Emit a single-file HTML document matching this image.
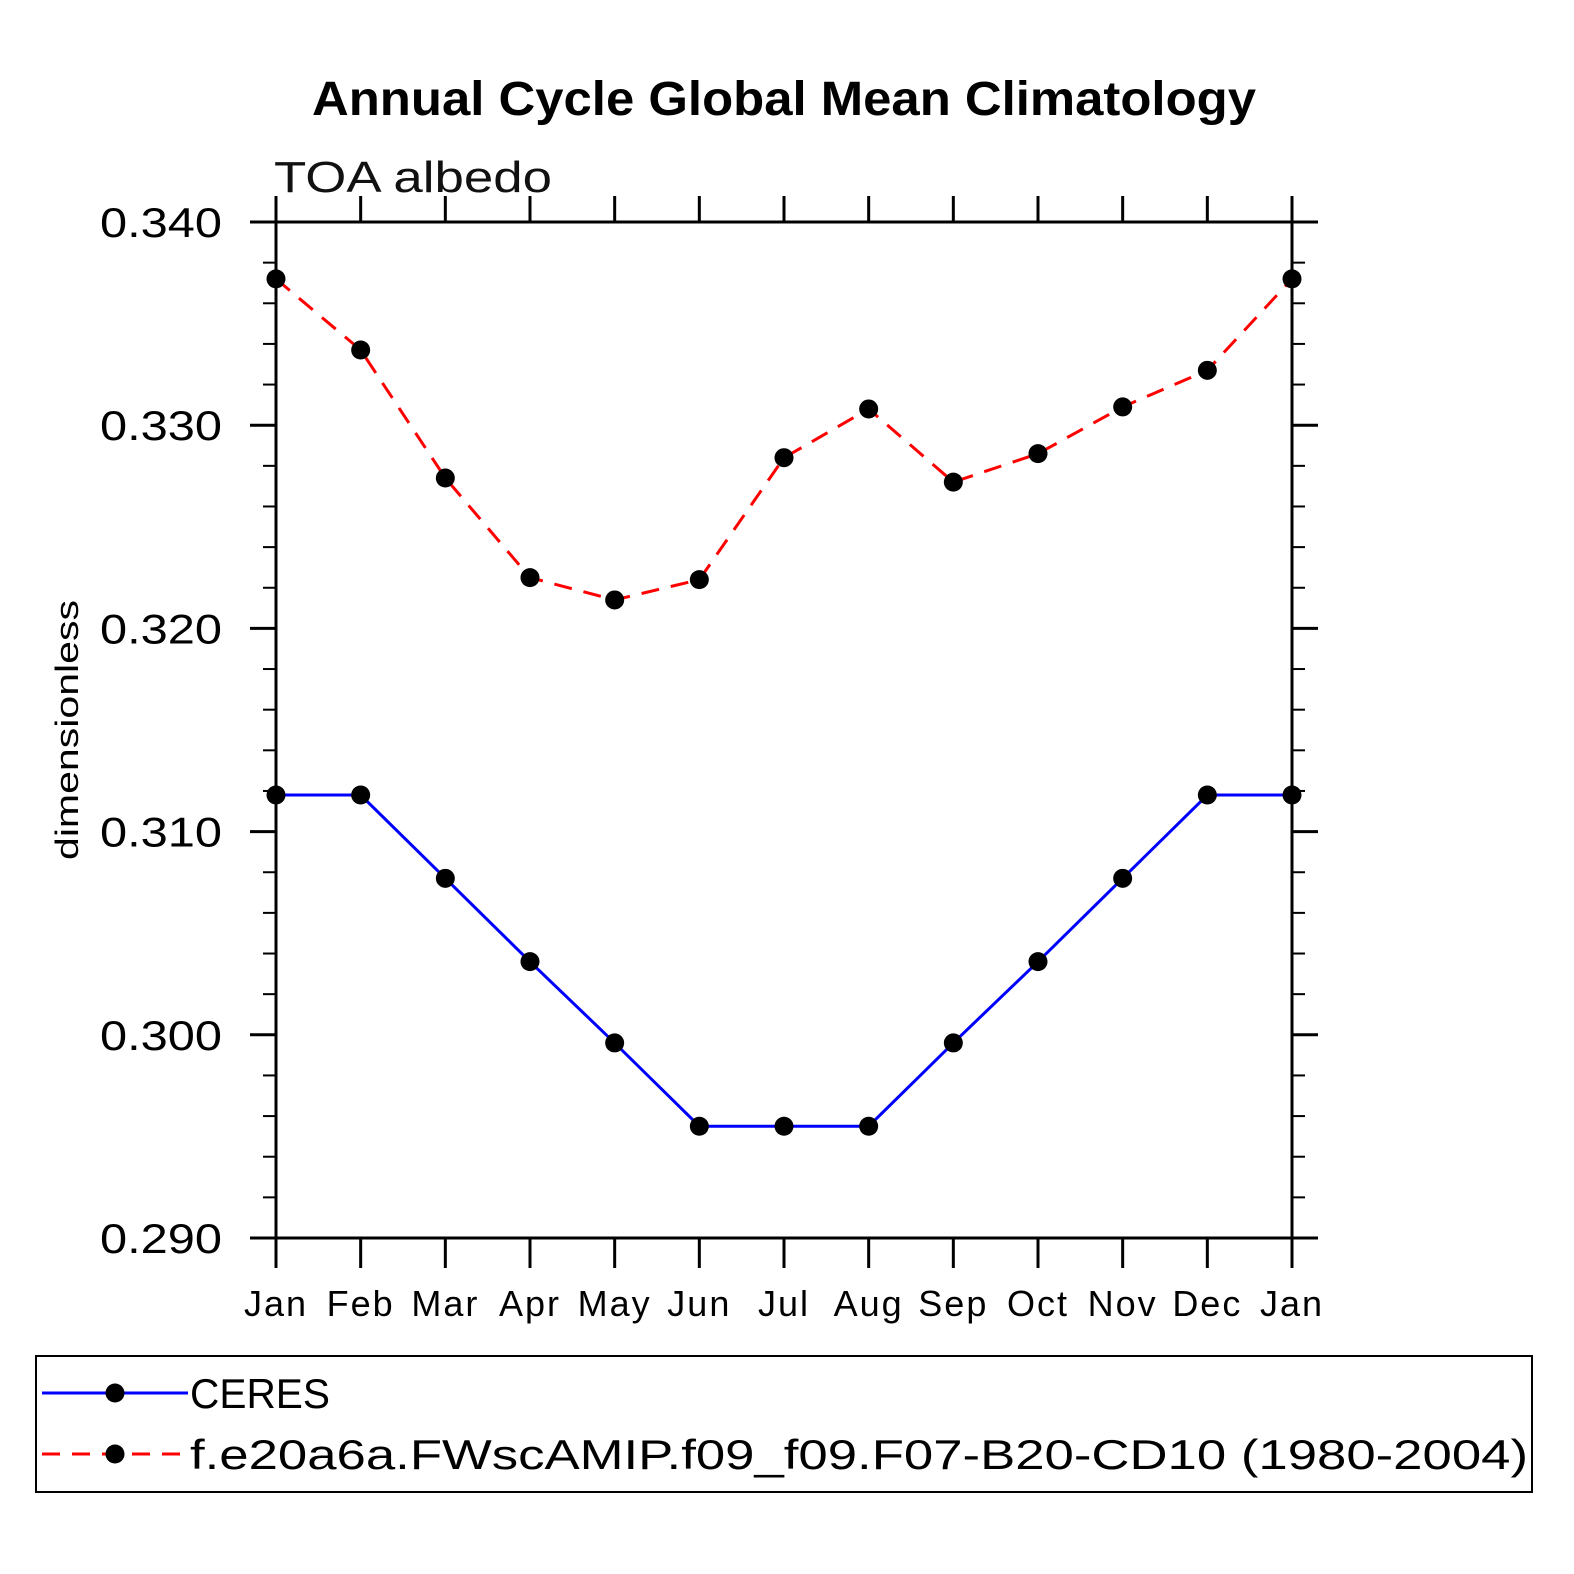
<!DOCTYPE html>
<html><head><meta charset="utf-8"><style>
html,body{margin:0;padding:0;background:#fff;overflow:hidden;width:1574px;height:1574px}
svg{display:block}
svg text{font-family:"Liberation Sans","DejaVu Sans",sans-serif}
</style></head><body>
<svg id="c" width="1574" height="1574" viewBox="0 0 1574 1574" xmlns="http://www.w3.org/2000/svg">
<text x="312" y="115" font-size="48" font-weight="bold" textLength="944" lengthAdjust="spacingAndGlyphs">Annual Cycle Global Mean Climatology</text>
<text x="274" y="192" font-size="44" fill="#111" textLength="278" lengthAdjust="spacingAndGlyphs">TOA albedo</text>
<text transform="translate(78,860) rotate(-90)" font-size="32" textLength="260" lengthAdjust="spacingAndGlyphs">dimensionless</text>
<g id="axes"></g>
<g id="series"></g>
<rect x="36" y="1356" width="1496" height="136" fill="none" stroke="#000" stroke-width="2"/>
<g>
<line x1="42" y1="1393" x2="188" y2="1393" stroke="#00f" stroke-width="3"/>
<circle cx="115" cy="1393" r="9.5" fill="#000"/>
<text x="190" y="1408" font-size="42" fill="#000" textLength="140" lengthAdjust="spacingAndGlyphs">CERES</text>
</g>
<g>
<line x1="42" y1="1454" x2="188" y2="1454" stroke="#f00" stroke-width="3" stroke-dasharray="18,12"/>
<circle cx="115" cy="1454" r="9.5" fill="#000"/>
<text x="190" y="1469" font-size="42" fill="#000" textLength="1338" lengthAdjust="spacingAndGlyphs">f.e20a6a.FWscAMIP.f09_f09.F07-B20-CD10 (1980-2004)</text>
</g>
</svg>
<script>
const months = ["Jan","Feb","Mar","Apr","May","Jun","Jul","Aug","Sep","Oct","Nov","Dec","Jan"];
const ceres = [0.3118,0.3118,0.3077,0.3036,0.2996,0.2955,0.2955,0.2955,0.2996,0.3036,0.3077,0.3118,0.3118];
const model = [0.3372,0.3337,0.3274,0.3225,0.3214,0.3224,0.3284,0.3308,0.3272,0.3286,0.3309,0.3327,0.3372];
const yTicks = [0.290,0.300,0.310,0.320,0.330,0.340];
const yTickLabels = ["0.290","0.300","0.310","0.320","0.330","0.340"];
const X0=276,X1=1292,Y0=1238,Y1=222,YMIN=0.29,YMAX=0.34;
const NS="http://www.w3.org/2000/svg";
function xs(i){return X0+(X1-X0)*i/(months.length-1);}
function ys(v){return Y0-(v-YMIN)/(YMAX-YMIN)*(Y0-Y1);}
function mk(tag,attrs,parent){const e=document.createElementNS(NS,tag);for(const k in attrs)e.setAttribute(k,attrs[k]);parent.appendChild(e);return e;}
const ax=document.getElementById('axes');
const frame=mk('rect',{x:X0,y:Y1,width:X1-X0,height:Y0-Y1,fill:'none',stroke:'#000','stroke-width':3},ax);


months.forEach((m,i)=>{
  const x=xs(i);
  const t1=mk('line',{x1:x,y1:Y0,x2:x,y2:Y0+30,stroke:'#000','stroke-width':3},ax);
  
  
  const t2=mk('line',{x1:x,y1:Y1,x2:x,y2:Y1-26,stroke:'#000','stroke-width':3},ax);
  
  
  const tx=mk('text',{x:x,y:1316,'text-anchor':'middle','font-size':36,'letter-spacing':2},ax);
  tx.textContent=m;
  
  
});
for(let k=0;k<=25;k++){
  const v=YMIN+k*0.002, y=ys(v), major=(k%5===0);
  const len=major?26:13;
  const a=mk('line',{x1:X0-len,y1:y,x2:X0,y2:y,stroke:'#000','stroke-width':major?3:2},ax);
  
  
  const b=mk('line',{x1:X1,y1:y,x2:X1+len,y2:y,stroke:'#000','stroke-width':major?3:2},ax);
  
  
}
yTicks.forEach((v,i)=>{
  const t=mk('text',{x:100,y:ys(v)+15,'font-size':42,textLength:122,lengthAdjust:'spacingAndGlyphs'},ax);
  t.textContent=yTickLabels[i];
  
  
});
const sg=document.getElementById('series');
function series(vals,color,dash,name){
  const pts=vals.map((v,i)=>xs(i)+','+ys(v)).join(' ');
  const a={points:pts,fill:'none',stroke:color,'stroke-width':3};
  if(dash)a['stroke-dasharray']=dash;
  const pl=mk('polyline',a,sg);
  
  
  vals.forEach((v,i)=>{
    const c=mk('circle',{cx:xs(i),cy:ys(v),r:9.5,fill:'#000'},sg);
    
    
  });
}
series(ceres,'#00f',null,'ceres');
series(model,'#f00','18,12','model');
</script>
</body></html>
